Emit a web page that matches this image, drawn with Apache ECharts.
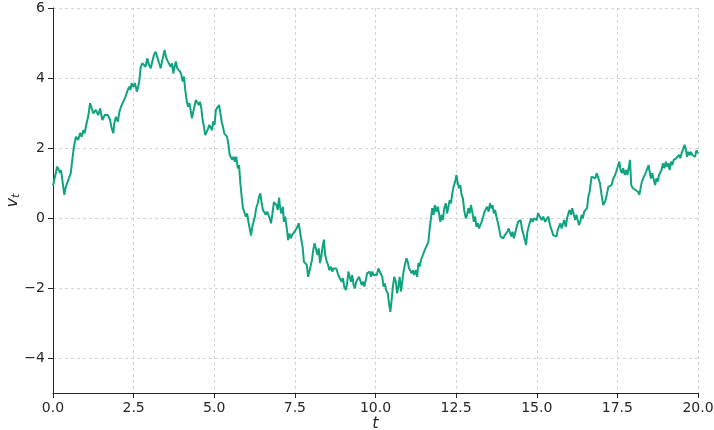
<!DOCTYPE html>
<html>
<head>
<meta charset="utf-8">
<script src="https://cdn.jsdelivr.net/npm/echarts@6/dist/echarts.min.js"></script>
<style>
  html, body { margin: 0; padding: 0; background: #ffffff; }
  #chart { width: 714px; height: 430px; }
</style>
</head>
<body>
<div id="chart"></div>
<script>
// Sample path v_t of a random walk, stored as [t, v] pairs in four stretches of time.
const walk0to5 = [
  [0.00,0.92],[0.13,1.47],[0.22,1.29],[0.25,1.37],[0.35,0.66],[0.40,0.90],[0.46,0.86],[0.55,1.28],[0.61,1.75],[0.65,2.04],
  [0.71,2.32],[0.78,2.23],[0.84,2.43],[0.89,2.32],[0.94,2.51],[0.98,2.42],[1.04,2.70],[1.09,2.89],[1.15,3.28],[1.20,3.32],
  [1.25,2.99],[1.33,3.09],[1.40,2.94],[1.46,3.13],[1.53,2.80],[1.61,2.95],[1.70,2.94],[1.77,2.80],[1.82,2.56],[1.87,2.42],
  [1.90,2.70],[1.95,2.89],[2.01,2.75],[2.06,3.04],[2.11,3.18],[2.15,3.13],[2.20,3.37],[2.25,3.47],[2.30,3.61],[2.36,3.75],
  [2.40,3.66],[2.44,3.85],[2.49,3.75],[2.54,3.85],[2.60,3.61],[2.64,3.75],[2.68,3.94],[2.72,4.32],[2.77,4.42],[2.82,4.47],
  [2.87,4.32],[2.92,4.56],[2.98,4.37],[3.03,4.28],[3.08,4.47],[3.13,4.66],[3.18,4.75],[3.23,4.61],[3.29,4.42],[3.34,4.28],
  [3.39,4.51],[3.46,4.80],[3.50,4.61],[3.54,4.51],[3.60,4.47],[3.65,4.32],[3.69,4.42],[3.73,4.13],[3.77,4.32],[3.81,4.47],
  [3.85,4.28],[3.90,4.32],[3.94,4.18],[3.98,4.09],[4.02,3.90],[4.06,4.04],[4.10,3.66],[4.15,3.32],[4.19,3.18],[4.23,3.28],
  [4.27,3.23],[4.31,2.85],[4.35,3.04],[4.39,3.09],[4.43,3.37],[4.47,3.32],[4.52,3.23],[4.56,3.32],[4.60,3.13],[4.64,2.80],
  [4.68,2.61],[4.72,2.37],[4.77,2.47],[4.81,2.56],[4.85,2.66],[4.89,2.70],[4.93,2.51],[4.97,2.77]
];
const walk5to10 = [
  [5.01,2.66],[5.05,3.09],[5.11,3.13],[5.15,3.23],[5.19,3.28],[5.23,2.75],[5.27,2.61],[5.31,2.42],[5.36,2.47],[5.40,2.32],
  [5.44,2.09],[5.48,1.80],[5.52,1.85],[5.56,1.66],[5.60,1.75],[5.64,1.61],[5.68,1.75],[5.73,1.42],[5.77,1.51],[5.81,0.99],
  [5.85,0.61],[5.89,0.28],[5.93,0.23],[5.98,0.04],[6.02,0.13],[6.06,-0.11],[6.10,-0.11],[6.14,-0.50],[6.18,-0.25],[6.22,-0.20],
  [6.26,0.04],[6.30,0.28],[6.35,0.42],[6.39,0.61],[6.43,0.70],[6.47,0.42],[6.51,0.23],[6.55,0.28],[6.60,0.09],[6.64,0.18],
  [6.68,0.13],[6.72,-0.01],[6.76,-0.15],[6.80,0.10],[6.85,0.45],[6.93,0.37],[6.97,0.23],[7.01,0.58],[7.04,0.32],[7.08,0.13],
  [7.13,0.32],[7.16,-0.11],[7.20,0.04],[7.25,-0.30],[7.29,-0.63],[7.33,-0.44],[7.37,-0.58],[7.41,-0.49],[7.45,-0.53],[7.49,-0.39],
  [7.53,-0.44],[7.58,-0.25],[7.62,-0.15],[7.66,-0.39],[7.70,-0.63],[7.74,-0.82],[7.78,-1.25],[7.82,-1.25],[7.87,-1.34],[7.91,-1.68],
  [7.95,-1.53],[7.99,-1.49],[8.03,-1.20],[8.07,-0.91],[8.11,-0.72],[8.16,-0.91],[8.20,-1.06],[8.24,-0.87],[8.28,-1.29],[8.32,-1.10],
  [8.36,-0.82],[8.40,-0.62],[8.44,-1.06],[8.49,-1.25],[8.53,-1.34],[8.57,-1.49],[8.62,-1.39],[8.66,-1.53],[8.70,-1.44],[8.74,-1.49],
  [8.78,-1.44],[8.83,-1.58],[8.87,-1.68],[8.91,-1.63],[8.95,-1.82],[8.99,-1.72],[9.03,-1.96],[9.08,-2.06],[9.12,-1.87],[9.16,-1.53],
  [9.20,-1.68],[9.24,-1.82],[9.28,-1.63],[9.32,-1.91],[9.36,-2.01],[9.40,-1.82],[9.45,-1.87],[9.49,-1.68],[9.53,-1.72],[9.57,-1.91],
  [9.61,-1.82],[9.65,-1.96],[9.70,-1.77],[9.74,-1.58],[9.78,-1.63],[9.82,-1.53],[9.86,-1.68],[9.90,-1.53],[9.94,-1.63],[9.98,-1.58]
];
const walk10to15 = [
  [10.04,-1.63],[10.09,-1.44],[10.13,-1.53],[10.17,-1.58],[10.21,-1.68],[10.25,-1.96],[10.29,-1.87],[10.33,-2.06],[10.38,-2.15],[10.42,-2.44],
  [10.46,-2.68],[10.50,-2.34],[10.54,-1.96],[10.58,-1.68],[10.63,-1.82],[10.67,-2.15],[10.71,-1.96],[10.75,-1.68],[10.79,-2.10],[10.83,-1.82],
  [10.87,-1.53],[10.91,-1.34],[10.96,-1.15],[11.00,-1.25],[11.04,-1.44],[11.08,-1.49],[11.12,-1.58],[11.16,-1.49],[11.20,-1.63],[11.25,-1.49],
  [11.29,-1.68],[11.33,-1.29],[11.37,-1.39],[11.41,-1.20],[11.45,-1.10],[11.49,-1.06],[11.53,-0.91],[11.59,-0.96],[11.64,-0.68],[11.68,-0.30],
  [11.72,-0.01],[11.76,0.28],[11.80,0.09],[11.84,0.37],[11.89,0.18],[11.93,0.32],[11.97,0.13],[12.01,-0.11],[12.05,0.09],[12.09,-0.06],
  [12.13,0.28],[12.18,0.42],[12.22,0.13],[12.26,0.32],[12.30,0.51],[12.34,0.42],[12.38,0.70],[12.42,0.89],[12.47,1.04],[12.51,1.23],
  [12.55,0.99],[12.59,0.85],[12.63,0.94],[12.67,0.66],[12.71,0.56],[12.75,0.23],[12.80,-0.01],[12.84,0.09],[12.88,0.28],[12.92,0.13],
  [12.96,0.37],[13.00,0.18],[13.05,-0.11],[13.09,0.04],[13.13,-0.25],[13.17,-0.15],[13.21,-0.30],[13.25,-0.20],[13.29,-0.11],[13.34,0.04],
  [13.38,0.18],[13.42,0.23],[13.46,0.32],[13.51,0.18],[13.55,0.42],[13.59,0.28],[13.63,0.37],[13.67,0.13],[13.71,0.23],[13.76,-0.01],
  [13.80,-0.15],[13.84,-0.34],[13.88,-0.53],[13.92,-0.49],[13.96,-0.58],[14.01,-0.49],[14.05,-0.53],[14.09,-0.39],[14.13,-0.30],[14.17,-0.34],
  [14.21,-0.53],[14.25,-0.39],[14.29,-0.58],[14.34,-0.53],[14.38,-0.25],[14.42,-0.11],[14.46,-0.06],[14.50,-0.06],[14.54,-0.30],[14.58,-0.44],
  [14.63,-0.39],[14.67,-0.77],[14.71,-0.39],[14.75,-0.25],[14.79,-0.11],[14.83,-0.01],[14.87,-0.11],[14.92,-0.01],[14.95,0.04]
];
const walk15to20 = [
  [15.00,-0.06],[15.04,0.14],[15.10,0.09],[15.15,-0.06],[15.20,0.04],[15.26,-0.11],[15.31,-0.06],[15.36,0.04],[15.41,-0.20],[15.46,-0.34],
  [15.51,-0.49],[15.57,-0.44],[15.61,-0.53],[15.65,-0.34],[15.69,-0.39],[15.73,-0.15],[15.77,-0.30],[15.81,-0.25],[15.85,-0.06],[15.90,-0.25],
  [15.94,-0.01],[15.98,0.13],[16.02,0.23],[16.06,0.09],[16.10,0.28],[16.15,0.09],[16.19,-0.06],[16.23,0.09],[16.27,-0.06],[16.31,-0.20],
  [16.35,-0.11],[16.39,0.09],[16.43,-0.01],[16.47,0.18],[16.52,0.23],[16.56,0.28],[16.60,0.61],[16.64,0.75],[16.70,1.18],[16.75,1.23],
  [16.81,1.13],[16.86,1.28],[16.91,1.23],[16.96,0.99],[17.01,0.66],[17.06,0.37],[17.12,0.47],[17.17,0.66],[17.22,0.89],[17.27,0.85],
  [17.32,0.94],[17.37,1.13],[17.43,1.23],[17.48,1.37],[17.53,1.42],[17.56,1.61],[17.60,1.37],[17.64,1.28],[17.68,1.42],[17.73,1.23],
  [17.77,1.37],[17.81,1.23],[17.85,1.42],[17.89,1.66],[17.93,0.94],[17.98,0.85],[18.02,0.89],[18.06,0.80],[18.10,0.85],[18.14,0.75],
  [18.18,0.66],[18.22,0.85],[18.26,1.04],[18.30,1.13],[18.35,1.09],[18.39,1.32],[18.43,1.42],[18.47,1.51],[18.50,1.32],[18.54,1.13],
  [18.58,1.28],[18.63,1.09],[18.67,0.94],[18.71,1.13],[18.75,1.04],[18.79,1.23],[18.83,1.18],[18.87,1.37],[18.91,1.56],[18.96,1.42],
  [19.00,1.61],[19.04,1.47],[19.08,1.56],[19.12,1.37],[19.16,1.61],[19.20,1.51],[19.25,1.66],[19.29,1.61],[19.33,1.71],[19.37,1.66],
  [19.41,1.80],[19.45,1.71],[19.49,1.85],[19.53,1.94],[19.58,2.09],[19.62,1.99],[19.66,1.75],[19.70,1.89],[19.74,1.80],[19.78,1.89],
  [19.82,1.80],[19.87,1.85],[19.91,1.75],[19.95,1.94],[20.00,1.85]
];

// Axis ticks
const tTicks = [0, 2.5, 5, 7.5, 10, 12.5, 15, 17.5, 20];
const vTicks = [-4, -2, 0, 2, 4, 6];

const path = walk0to5.concat(walk5to10, walk10to15, walk15to20);

const FONT = '"DejaVu Sans", sans-serif';
const INK = '#262626';
const gridLine = { show: true, lineStyle: { color: '#c8c8c8', width: 0.8, type: [3, 3] } };

const chart = echarts.init(document.getElementById('chart'), null, { renderer: 'canvas' });
chart.setOption({
  animation: false,
  backgroundColor: '#ffffff',
  grid: { left: 53, right: 16, top: 8, bottom: 37, containLabel: false, outerBoundsMode: 'none' },
  xAxis: {
    type: 'value',
    min: tTicks[0],
    max: tTicks[tTicks.length - 1],
    interval: 2.5,
    name: 't',
    nameLocation: 'middle',
    nameMoveOverlap: false,
    nameGap: 23,
    nameTextStyle: { fontFamily: FONT, fontSize: 16, fontStyle: 'italic', color: INK },
    axisLine: { show: true, onZero: false, lineStyle: { color: INK, width: 1 } },
    axisTick: { show: true, inside: false, length: 5, lineStyle: { color: INK, width: 1 } },
    axisLabel: {
      fontFamily: FONT, fontSize: 14, color: INK, margin: 8,
      formatter: v => v.toFixed(1)
    },
    splitLine: gridLine
  },
  yAxis: {
    type: 'value',
    min: -5,
    max: 6,
    interval: 1,
    name: '{v|v}{s|t}',
    nameLocation: 'middle',
    nameMoveOverlap: false,
    nameRotate: 90,
    nameGap: 31,
    nameTextStyle: {
      fontFamily: FONT, fontSize: 16, color: INK,
      rich: {
        v: { fontFamily: FONT, fontSize: 16, fontStyle: 'italic', color: INK },
        s: { fontFamily: FONT, fontSize: 11, fontStyle: 'italic', color: INK, padding: [7, 0, 0, 0] }
      }
    },
    axisLine: { show: true, onZero: false, lineStyle: { color: INK, width: 1 } },
    axisTick: { show: true, inside: false, length: 5, customValues: vTicks, lineStyle: { color: INK, width: 1 } },
    axisLabel: {
      fontFamily: FONT, fontSize: 14, color: INK, margin: 8,
      customValues: vTicks,
      formatter: v => (v < 0 ? '\u2212' + Math.abs(v) : String(v))
    },
    splitLine: gridLine
  },
  series: [{
    type: 'line',
    data: path,
    showSymbol: false,
    symbol: 'none',
    smooth: false,
    lineStyle: { color: '#10a37f', width: 2 },
    z: 3
  }]
});
</script>
</body>
</html>
